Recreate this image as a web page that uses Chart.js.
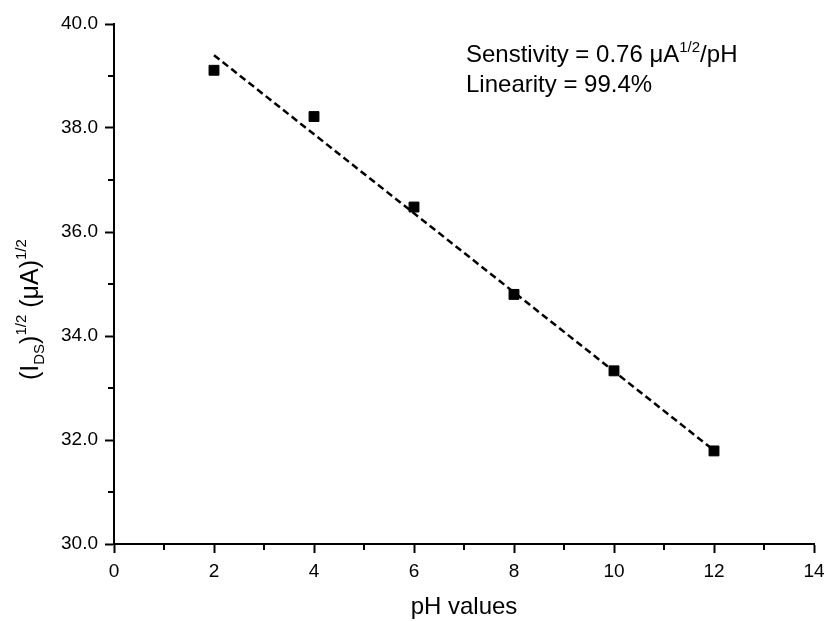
<!DOCTYPE html>
<html>
<head>
<meta charset="utf-8">
<script src="https://cdn.jsdelivr.net/npm/chart.js@4.4.1/dist/chart.umd.min.js"></script>
<style>
    body { margin:0; background:#fff; }
    #wrap { width:826px; height:621px; }
</style>
</head>
<body>
<div id="wrap"><canvas id="chart" width="826" height="621"></canvas></div>
<script>
let phValues=[2,4,6,8,10,12];
let currentRoot=[39.11,38.22,36.48,34.80,33.33,31.79];
let fitX=[2,12];
let fitY=[39.40,31.80];
let xMinorTicks=[1,3,5,7,9,11,13];
let yMinorTicks=[31,33,35,37,39];

const FONT="'Liberation Sans', Arial, sans-serif";

function toPoints(xs,ys) {
    return xs.map((x,i)=>({x:x,y:ys[i]}));
}

// draws text pieces in a row, each {t, size, dy}
function drawRun(ctx,parts,x,y) {
    parts.forEach(p=>{
        ctx.font=p.size+"px "+FONT;
        ctx.fillText(p.t,x,y+(p.dy||0));
        x+=ctx.measureText(p.t).width;
    });
}

let decorations={
    id:'decorations',
    afterDraw(chart) {
        let
            ctx=chart.ctx,
            xs=chart.scales.x,
            ys=chart.scales.y,
            area=chart.chartArea;
        ctx.save();
        ctx.strokeStyle='#000';
        ctx.lineWidth=2;
        ctx.beginPath();
        xMinorTicks.forEach(v=>{
            let px=Math.round(xs.getPixelForValue(v));
            ctx.moveTo(px,area.bottom);
            ctx.lineTo(px,area.bottom+6);
        });
        yMinorTicks.forEach(v=>{
            let py=Math.round(ys.getPixelForValue(v));
            ctx.moveTo(area.left,py);
            ctx.lineTo(area.left-6,py);
        });
        ctx.stroke();

        ctx.fillStyle='#000';
        ctx.textBaseline='alphabetic';
        ctx.textAlign='left';

        drawRun(ctx,[
            {t:'Senstivity = 0.76 \u03bcA',size:24},
            {t:'1/2',size:15,dy:-10},
            {t:'/pH',size:24}
        ],466,62);
        drawRun(ctx,[{t:'Linearity = 99.4%',size:24}],466,92);

        ctx.textAlign='center';
        ctx.font="24px "+FONT;
        ctx.fillText('pH values',(area.left+area.right)/2,614);

        ctx.textAlign='left';
        ctx.translate(38,380);
        ctx.rotate(-Math.PI/2);
        drawRun(ctx,[
            {t:'(I',size:25},
            {t:'DS',size:15,dy:6},
            {t:')',size:25},
            {t:'1/2',size:15,dy:-12},
            {t:' (\u03bcA)',size:25},
            {t:'1/2',size:15,dy:-12}
        ],0,0);
        ctx.restore();
    }
};

function axis(min,max,step,size,fmt) {
    return {
        type:'linear',
        min:min,
        max:max,
        ticks:{
            stepSize:step,
            color:'#000',
            font:{family:FONT,size:19},
            padding:7,
            callback:fmt
        },
        grid:{
            drawOnChartArea:false,
            drawTicks:true,
            tickLength:9,
            tickWidth:2,
            tickColor:'#000'
        },
        border:{display:true,color:'#000',width:2},
        title:{display:false},
        afterFit:size
    };
}

new Chart(document.getElementById('chart'),{
    type:'scatter',
    data:{
        datasets:[
            {
                label:'fit',
                data:toPoints(fitX,fitY),
                showLine:true,
                borderColor:'#000',
                borderWidth:2.5,
                borderDash:[7,4],
                pointRadius:0,
                fill:false
            },
            {
                label:'data',
                data:toPoints(phValues,currentRoot),
                pointStyle:'rect',
                pointRadius:7,
                pointBorderWidth:1,
                pointBackgroundColor:'#000',
                pointBorderColor:'#000',
                showLine:false
            }
        ]
    },
    options:{
        responsive:false,
        animation:false,
        devicePixelRatio:1,
        layout:{padding:{top:24,right:12,left:0,bottom:0}},
        plugins:{
            legend:{display:false},
            tooltip:{enabled:false}
        },
        scales:{
            x:axis(0,14,2,s=>{s.height=77;s.paddingRight=0;s.paddingLeft=0;},v=>String(v)),
            y:axis(30,40,2,s=>{s.width=114;s.paddingTop=0;s.paddingBottom=0;},v=>Number(v).toFixed(1))
        }
    },
    plugins:[decorations]
});
</script>
</body>
</html>
